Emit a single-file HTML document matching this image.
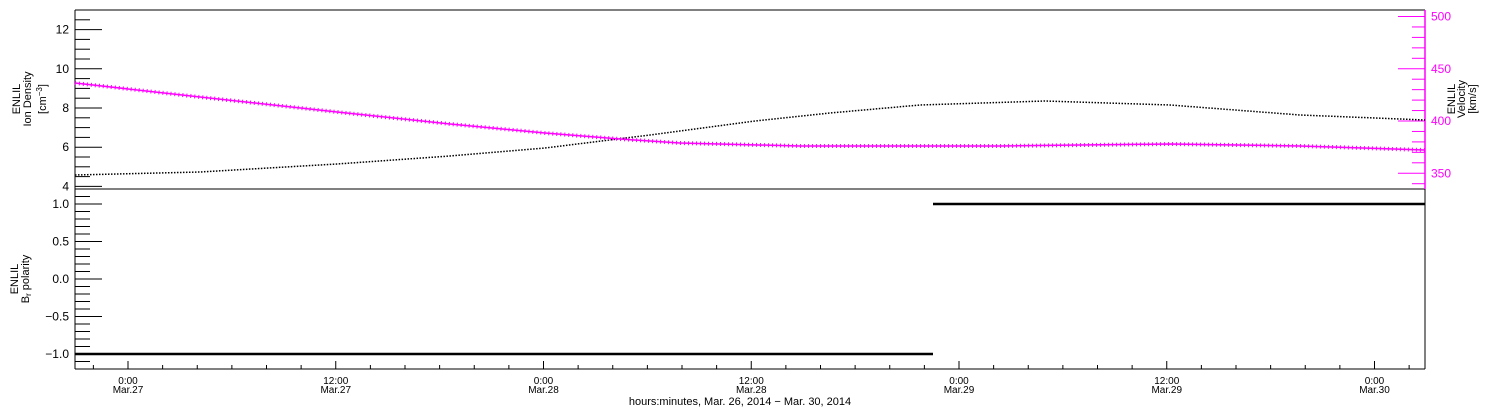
<!DOCTYPE html>
<html><head><meta charset="utf-8"><style>
html,body{margin:0;padding:0;background:#fff;}
svg{display:block;font-family:"Liberation Sans",sans-serif;}
</style></head><body>
<svg id="s" width="1500" height="410" xmlns="http://www.w3.org/2000/svg">
<rect x="0" y="0" width="1500" height="410" fill="#fff"/>
<g id="g"></g>
<g font-size="11" fill="#000" text-anchor="middle">
<text transform="translate(20,99) rotate(-90)">ENLIL</text>
<text transform="translate(31,99) rotate(-90)">Ion Density</text>
<text transform="translate(46,99) rotate(-90)">[cm<tspan font-size="8" dy="-4">−3</tspan><tspan dy="4">]</tspan></text>
<text transform="translate(1455,99) rotate(-90)">ENLIL</text>
<text transform="translate(1465,99) rotate(-90)">Velocity</text>
<text transform="translate(1476,99) rotate(-90)">[km/s]</text>
<text transform="translate(18,279) rotate(-90)">ENLIL</text>
<text transform="translate(29,279) rotate(-90)">B<tspan font-size="8" dy="2">r</tspan><tspan dy="-2"> polarity</tspan></text>
<text x="740" y="405" font-size="11">hours:minutes, Mar. 26, 2014 − Mar. 30, 2014</text>
</g>
</svg>
<script>
var g=document.getElementById('g'),NS='http://www.w3.org/2000/svg';
function el(t,a,txt){var e=document.createElementNS(NS,t);for(var k in a)e.setAttribute(k,a[k]);if(txt!=null)e.textContent=txt;g.appendChild(e);return e;}
function ln(x1,y1,x2,y2,c,w){el('line',{x1:x1,y1:y1,x2:x2,y2:y2,stroke:c||'#000','stroke-width':w||1});}
var L=75,R=1425,T=10,M=189,B=369;
ln(L,T,R,T);ln(L,T,L,B);ln(L,B,R,B);ln(L,M,R,M);ln(R,M,R,B);ln(R,T,R,M,'#f0f',1.5);
function yD(v){return 108-(v-8)*19.6;}
for(var v=4;v<=13.01;v+=0.5){var y=yD(v);if(y<T||y>M)continue;var maj=Math.abs(v-Math.round(v/2)*2)<0.01;ln(L,y,L+(maj?27:15),y);if(maj)el('text',{x:L-6,y:y+4,'font-size':12,'text-anchor':'end'},''+v);}
function yV(v){return 121-(v-400)*1.045;}
for(var v=340;v<=510;v+=10){var y=yV(v);if(y<T||y>M)continue;var maj=v%50==0;ln(R,y,R-(maj?27:13),y,'#f0f');if(maj)el('text',{x:R+6,y:y+4,'font-size':12,fill:'#f0f'},''+v);}
function yP(v){return 279-v*75;}
for(var i=-12;i<=12;i++){var v=i/10,y=yP(v);if(y<M||y>B)continue;var maj=i%5==0;ln(L,y,L+(maj?27:15),y);if(maj)el('text',{x:L-6,y:y+4,'font-size':12,'text-anchor':'end'},(v<0?'−':'')+Math.abs(v).toFixed(1));}
var x0=128,day=415.5;
for(var h=-4;h<=80;h+=2){var x=x0+h*day/24;if(x<L||x>R)continue;var maj=h%12==0;ln(x,B,x,B-(maj?8:4));}
var labs=[[0,'0:00','Mar.27'],[12,'12:00','Mar.27'],[24,'0:00','Mar.28'],[36,'12:00','Mar.28'],[48,'0:00','Mar.29'],[60,'12:00','Mar.29'],[72,'0:00','Mar.30']];
labs.forEach(function(l){var x=x0+l[0]*day/24;el('text',{x:x,y:384,'font-size':10,'text-anchor':'middle'},l[1]);el('text',{x:x,y:393,'font-size':10,'text-anchor':'middle'},l[2]);});
var dens=[[75,175],[200,172],[337,164],[450,156],[545,148],[650,135],[755,121],[830,113],[920,105],[1045,101],[1170,105],[1300,115],[1425,120]];
var vel=[[75,83],[200,97],[337,112],[450,124],[545,133],[620,139],[680,143],[800,146],[1000,146],[1170,144],[1300,146],[1425,150]];
function pts(a){return a.map(function(p){return p.join(',');}).join(' ');}
el('polyline',{points:pts(dens),fill:'none',stroke:'#000','stroke-width':1.5,'stroke-dasharray':'1.5 1.5'});
el('polyline',{points:pts(vel),fill:'none',stroke:'#f0f','stroke-width':1.5});
el('polyline',{points:pts(vel),fill:'none',stroke:'#f0f','stroke-width':4,'stroke-dasharray':'1 3'});
ln(L,354,933,354,'#000',2.5);ln(933,204,R,204,'#000',2.5);
</script>
</body></html>
